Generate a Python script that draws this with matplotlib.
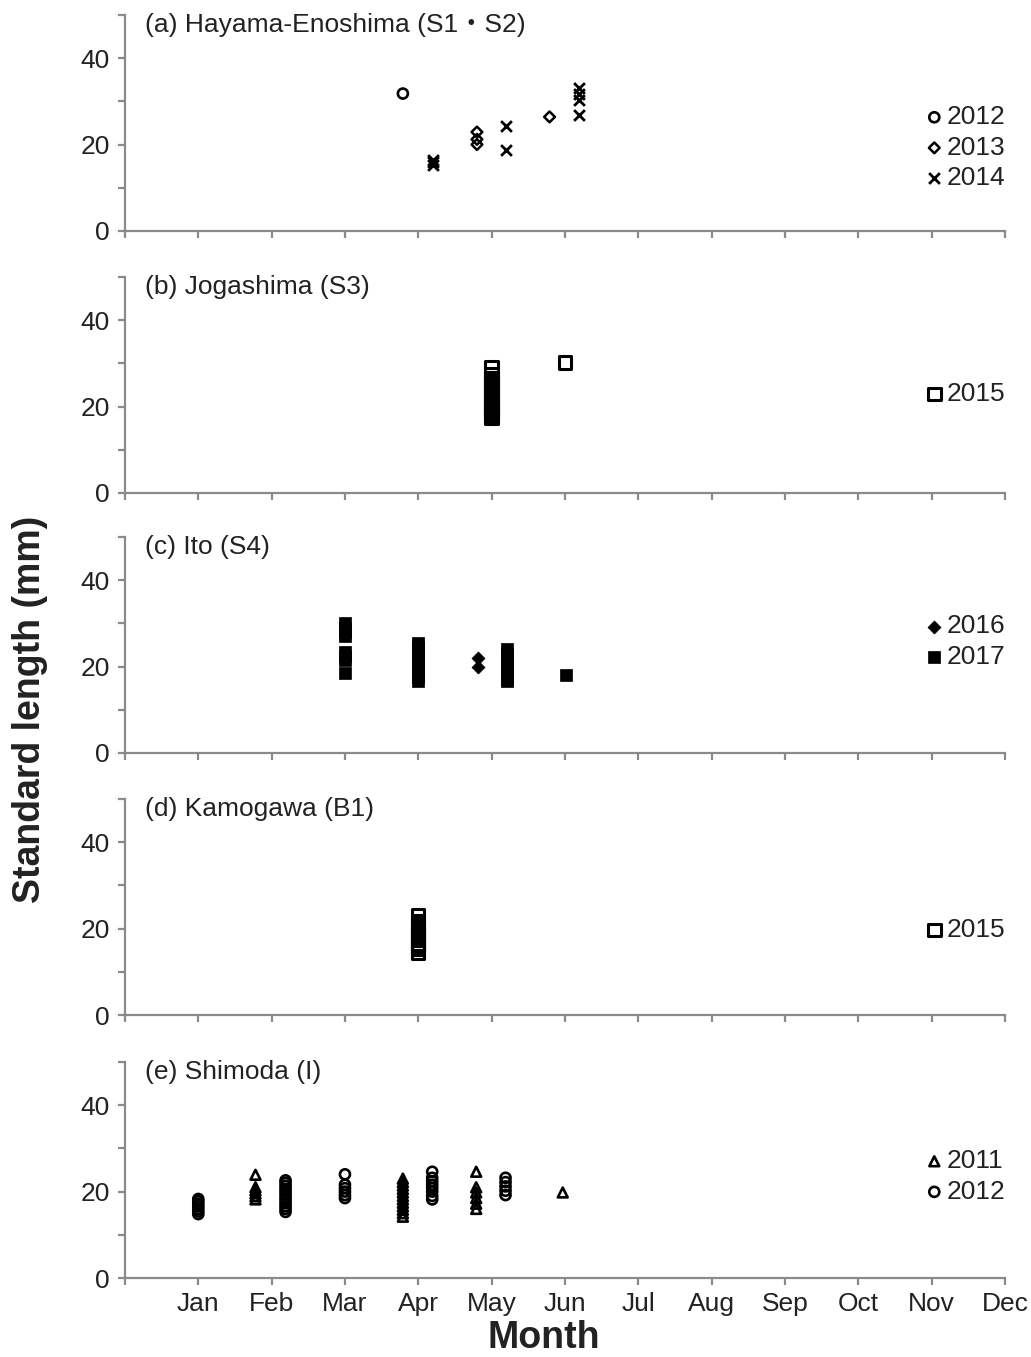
import matplotlib
matplotlib.use("Agg")
import matplotlib.pyplot as plt

plt.rcParams['font.family'] = ['Liberation Sans', 'Noto Sans CJK JP', 'DejaVu Sans']

months = ["Jan", "Feb", "Mar", "Apr", "May", "Jun", "Jul", "Aug", "Sep", "Oct", "Nov", "Dec"]

# (a) Hayama-Enoshima
a12_x = [3.79]
a12_y = [31.8]
a13_x = [4.8, 4.8, 4.8, 5.79]
a13_y = [22.9, 21.2, 20.0, 26.4]
a14_x = [4.2, 4.2, 4.2, 5.19, 5.19, 6.19, 6.19, 6.19, 6.19]
a14_y = [15.2, 15.9, 16.5, 24.2, 18.8, 33.2, 31.8, 30.4, 26.8]

# (b) Jogashima
b15_x = [5.0] * 15 + [6.0]
b15_y = [29.0, 27.6, 26.6, 25.9, 25.2, 24.4, 23.6, 22.8, 22.0, 21.2, 20.4, 19.6, 18.8, 18.0, 17.3, 30.2]

# (c) Ito
c16_x = [4.81, 4.81]
c16_y = [22.1, 20.0]
c17_x = [3.0] * 8 + [4.0] * 10 + [5.21] * 9 + [6.02]
c17_y = [30.0, 29.0, 28.0, 27.1, 23.4, 22.4, 21.5, 18.4,
         25.5, 24.5, 23.5, 22.5, 21.5, 20.5, 19.5, 18.5, 17.5, 16.6,
         24.0, 23.0, 22.0, 21.0, 20.0, 19.0, 18.0, 17.2, 16.7,
         18.0]

# (d) Kamogawa
d15_x = [4.0] * 12
d15_y = [23.1, 21.8, 21.0, 20.2, 19.5, 18.8, 18.0, 17.3, 16.6, 16.0, 15.3, 14.5]

# (e) Shimoda
e11_x = [1.78] * 6 + [3.79] * 12 + [4.79] * 6 + [5.97]
e11_y = [23.9, 21.0, 20.3, 19.6, 18.9, 18.2,
         23.0, 22.2, 21.4, 20.6, 19.8, 19.0, 18.2, 17.4, 16.6, 15.8, 15.0, 14.2,
         24.6, 21.0, 19.8, 18.5, 17.2, 16.0,
         19.8]
e12_x = [1.0] * 7 + [2.19] * 12 + [3.0] * 6 + [4.19] * 8 + [5.19] * 5
e12_y = [18.3, 17.8, 17.2, 16.6, 16.0, 15.4, 14.8,
         22.6, 22.0, 21.3, 20.6, 20.0, 19.3, 18.6, 18.0, 17.3, 16.6, 16.0, 15.3,
         24.0, 21.6, 20.8, 20.0, 19.2, 18.5,
         24.6, 23.2, 22.4, 21.6, 20.8, 20.0, 19.0, 18.2,
         23.2, 22.2, 21.2, 20.2, 19.2]

titles = ["(a) Hayama-Enoshima (S1\u30fbS2)", "(b) Jogashima (S3)", "(c) Ito (S4)",
          "(d) Kamogawa (B1)", "(e) Shimoda (I)"]

opn = dict(facecolors='none', edgecolors='black')
panels = [
    [(a12_x, a12_y, "2012", dict(marker='o', s=52, linewidths=1.9, **opn)),
     (a13_x, a13_y, "2013", dict(marker='D', s=30, linewidths=1.8, **opn)),
     (a14_x, a14_y, "2014", dict(marker='x', s=60, linewidths=2.0, color='black'))],
    [(b15_x, b15_y, "2015", dict(marker='s', s=80, linewidths=2.2, **opn))],
    [(c16_x, c16_y, "2016", dict(marker='D', s=44, linewidths=0.5, color='black')),
     (c17_x, c17_y, "2017", dict(marker='s', s=80, linewidths=0.5, color='black'))],
    [(d15_x, d15_y, "2015", dict(marker='s', s=80, linewidths=2.2, **opn))],
    [(e11_x, e11_y, "2011", dict(marker='^', s=50, linewidths=1.9, **opn)),
     (e12_x, e12_y, "2012", dict(marker='o', s=52, linewidths=1.9, **opn))],
]
leg_y = [0.385, 0.458, 0.515, 0.394, 0.47]
bottoms = [0.8298, 0.6367, 0.4451, 0.2520, 0.0582]

fig = plt.figure(figsize=(10.31, 13.57), dpi=100)
grey = '#8a8a8a'
for i, series in enumerate(panels):
    ax = fig.add_axes([0.1212, bottoms[i], 0.8535, 0.1592])
    for xs, ys, lab, kw in series:
        ax.scatter(xs, ys, label=lab, clip_on=False, zorder=3, **kw)
    ax.set_xlim(0, 12)
    ax.set_ylim(0, 50)
    ax.set_xticks(range(0, 13))
    ax.set_yticks(range(0, 51, 10))
    ax.set_yticklabels(["0", "", "20", "", "40", ""])
    if i == 4:
        ax.set_xticklabels([""] + months)
    else:
        ax.set_xticklabels([])
    for s in ["top", "right"]:
        ax.spines[s].set_visible(False)
    for s in ["left", "bottom"]:
        ax.spines[s].set_color(grey)
        ax.spines[s].set_linewidth(1.6)
    ax.tick_params(axis='both', direction='out', length=5, width=1.6, color=grey,
                   labelsize=19, labelcolor='#222222')
    ax.tick_params(axis='x', pad=5)
    ax.tick_params(axis='y', pad=6)
    ax.text(0.023, 0.955, titles[i], transform=ax.transAxes, fontsize=19,
            color='#222222', va='center', ha='left')
    ax.legend(loc='center right', bbox_to_anchor=(1.0, leg_y[i]), frameon=False,
              fontsize=19, handlelength=0.6, handletextpad=0.15, labelspacing=0.25,
              borderaxespad=0, borderpad=0, labelcolor='#222222')

fig.text(0.029, 0.477, "Standard length (mm)", rotation=90, fontsize=27,
         fontweight='bold', ha='center', va='center', color='#222222')
fig.text(0.527, 0.014, "Month", fontsize=27, fontweight='bold',
         ha='center', va='center', color='#222222')

fig.savefig("out.png", dpi=100)
